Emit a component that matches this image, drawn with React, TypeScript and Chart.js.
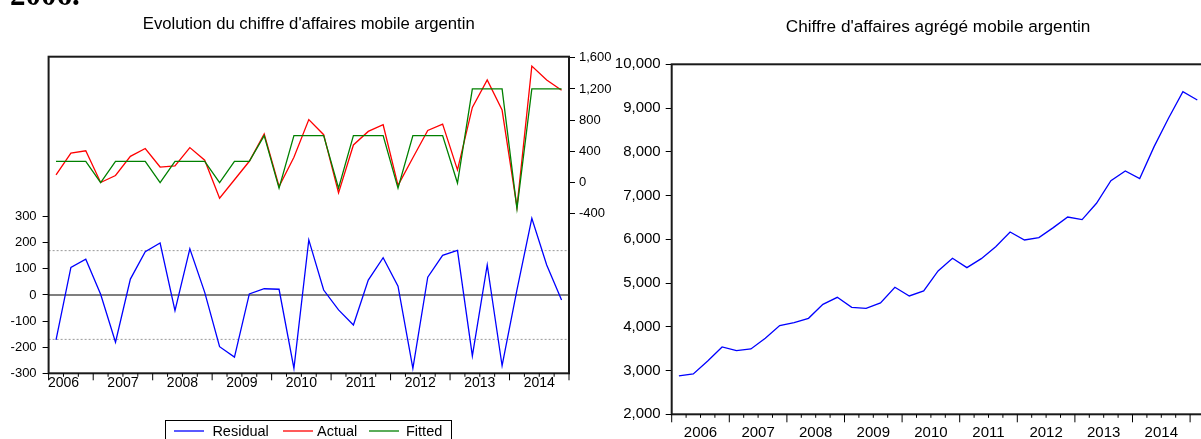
import React, { useEffect, useRef } from 'react';
import { Chart, registerables } from 'chart.js';

Chart.register(...registerables);

const SANS = "'Liberation Sans', Arial, Helvetica, sans-serif";
const SERIF = "'Liberation Serif', 'Times New Roman', serif";

const headingText = '2006.';
const leftTitle = "Evolution du chiffre d'affaires mobile argentin";
const rightTitle = "Chiffre d'affaires agrégé mobile argentin";

const yearLabels = ['2006', '2007', '2008', '2009', '2010', '2011', '2012', '2013', '2014'];

// Left panel: sample 2006Q2 - 2014Q4 (35 quarters)
const leftFirstQuarter = 2;
const residual = [
  -172, 106, 137, 3, -181, 61, 166, 199, -60, 177, 10, -198, -238, 4, 24, 22, -281, 211,
  19, -57, -115, 57, 143, 34, -281, 68, 152, 171, -233, 115, -271, 20, 294, 115, -19,
];
const actual = [
  96, 375, 405, -3, 87, 333, 434, 196, 210, 446, 284, -205, 32, 270, 620, -55, 322, 806,
  612, -137, 480, 654, 740, -40, 315, 666, 748, 160, 963, 1315, 929, -320, 1494, 1315, 1183,
];
const fitted = [
  268, 268, 268, -5, 268, 268, 268, -5, 268, 268, 268, -5, 268, 268, 600, -75, 600, 600,
  600, -75, 600, 600, 600, -75, 600, 600, 600, -10, 1200, 1200, 1200, -340, 1200, 1200, 1200,
];
const residualTicks = [-300, -200, -100, 0, 100, 200, 300];
const levelTicks = [-400, 0, 400, 800, 1200, 1600];
const residualBand = [170, -170];
const legendItems = [
  { label: 'Residual', color: '#0000FF' },
  { label: 'Actual', color: '#FF0000' },
  { label: 'Fitted', color: '#008000' },
];

// Right panel: sample 2006Q1 - 2015Q1 (37 quarters)
const rightFirstQuarter = 1;
const aggregate = [
  2876, 2922, 3219, 3539, 3455, 3493, 3737, 4027, 4095, 4194, 4514, 4674, 4446, 4423, 4545,
  4903, 4705, 4819, 5276, 5566, 5352, 5558, 5832, 6168, 5985, 6038, 6267, 6510, 6450, 6823,
  7341, 7562, 7387, 8118, 8766, 9375, 9185,
];
const aggregateTicks = [2000, 3000, 4000, 5000, 6000, 7000, 8000, 9000, 10000];

const LINE_W = 1.3;
const fmt = new Intl.NumberFormat('en-US');
const toPoints = (arr: number[]) => arr.map((v, i) => ({ x: i + 0.5, y: v }));

function drawQuarterTicks(chart: any, n: number, off: number, major: number, minor: number) {
  const { ctx, chartArea: a } = chart;
  const x = chart.scales.x;
  ctx.save();
  ctx.strokeStyle = '#000';
  ctx.lineWidth = 1;
  for (let i = 0; i <= n; i++) {
    const px = x.getPixelForValue(i);
    const isMajor = i === 0 || i === n || (i + off) % 4 === 0;
    ctx.beginPath();
    ctx.moveTo(px, a.bottom);
    ctx.lineTo(px, a.bottom + (isMajor ? major : minor));
    ctx.stroke();
  }
  ctx.restore();
}

function drawFrame(chart: any) {
  const { ctx, chartArea: a } = chart;
  ctx.save();
  ctx.strokeStyle = '#1a1a1a';
  ctx.lineWidth = 2;
  ctx.strokeRect(a.left, a.top, a.right - a.left, a.bottom - a.top);
  ctx.restore();
}

function LeftChart() {
  const ref = useRef<HTMLCanvasElement>(null);
  useEffect(() => {
    const n = residual.length;
    const off = leftFirstQuarter - 1;
    const yearPos = yearLabels.map((_, k) => k * 4 - off + 2);
    const decor = {
      id: 'leftDecor',
      afterDraw(chart: any) {
        const { ctx, chartArea: a } = chart;
        drawFrame(chart);
        drawQuarterTicks(chart, n, off, 7, 3.5);
        ctx.save();
        ctx.fillStyle = '#000';
        ctx.font = `bold 31px ${SERIF}`;
        ctx.textAlign = 'left';
        ctx.textBaseline = 'alphabetic';
        ctx.fillText(headingText, 10, 4.5);
        ctx.font = `16.7px ${SANS}`;
        ctx.textAlign = 'center';
        ctx.textBaseline = 'middle';
        ctx.fillText(leftTitle, (a.left + a.right) / 2, 24);
        // legend box
        ctx.lineWidth = 1;
        ctx.strokeStyle = '#000';
        ctx.strokeRect(165.5, 420.5, 286, 30);
        const lineStarts = [174, 283, 369];
        const textStarts = [212.4, 317, 406];
        ctx.font = `14.5px ${SANS}`;
        ctx.textAlign = 'left';
        ctx.textBaseline = 'alphabetic';
        legendItems.forEach((it, k) => {
          ctx.strokeStyle = it.color;
          ctx.lineWidth = LINE_W;
          ctx.beginPath();
          ctx.moveTo(lineStarts[k], 431);
          ctx.lineTo(lineStarts[k] + 30, 431);
          ctx.stroke();
          ctx.fillStyle = '#000';
          ctx.fillText(it.label, textStarts[k], 435.5);
        });
        ctx.restore();
      },
    };
    const chart = new Chart(ref.current as HTMLCanvasElement, {
      type: 'line',
      data: {
        datasets: [
          { data: toPoints(fitted), yAxisID: 'y2', borderColor: '#008000', borderWidth: LINE_W, pointRadius: 0, order: 0 },
          { data: toPoints(actual), yAxisID: 'y2', borderColor: '#FF0000', borderWidth: LINE_W, pointRadius: 0, order: 1 },
          { data: toPoints(residual), yAxisID: 'y', borderColor: '#0000FF', borderWidth: LINE_W, pointRadius: 0, order: 1 },
          { data: [{ x: 0, y: 0 }, { x: n, y: 0 }], yAxisID: 'y', borderColor: '#000', borderWidth: 1.2, pointRadius: 0, order: 5 },
          ...residualBand.map((b) => ({
            data: [{ x: 0, y: b }, { x: n, y: b }], yAxisID: 'y', borderColor: '#999', borderWidth: 1,
            borderDash: [2, 2], pointRadius: 0, order: 6,
          })),
        ] as any,
      },
      options: {
        responsive: false,
        animation: false,
        events: [],
        layout: { padding: { left: 0, top: 56.7, right: 21, bottom: 35.7 } },
        plugins: { legend: { display: false }, tooltip: { enabled: false }, title: { display: false } },
        elements: { line: { tension: 0 } },
        scales: {
          x: {
            type: 'linear', min: 0, max: n, bounds: 'data',
            grid: { display: false, drawTicks: false }, border: { display: false },
            ticks: {
              autoSkip: false, maxRotation: 0, color: '#000', padding: 1,
              font: { family: SANS, size: 14 },
              callback: (_v: any, i: number) => yearLabels[i],
            },
            afterBuildTicks: (s: any) => { s.ticks = yearPos.map((v) => ({ value: v })); },
            afterFit: (s: any) => { s.height = 30; },
          },
          y: {
            type: 'linear', position: 'left', min: -300, max: 913, bounds: 'data',
            grid: { drawOnChartArea: false, drawTicks: true, tickLength: 6, color: '#000' },
            border: { display: false },
            ticks: { color: '#000', padding: 6, font: { family: SANS, size: 13 }, callback: (v: any) => fmt.format(v) },
            afterBuildTicks: (s: any) => { s.ticks = residualTicks.map((v) => ({ value: v })); },
            afterFit: (s: any) => { s.width = 48.6; },
          },
          y2: {
            type: 'linear', position: 'right', min: -2457, max: 1615, bounds: 'data',
            grid: { drawOnChartArea: false, drawTicks: true, tickLength: 6, color: '#000' },
            border: { display: false },
            ticks: { color: '#000', padding: 4, font: { family: SANS, size: 13 }, callback: (v: any) => fmt.format(v) },
            afterBuildTicks: (s: any) => { s.ticks = levelTicks.map((v) => ({ value: v })); },
            afterFit: (s: any) => { s.width = 50; },
          },
        } as any,
      },
      plugins: [decor],
    });
    return () => chart.destroy();
  }, []);
  return <canvas ref={ref} width={640} height={439} style={{ position: 'absolute', left: 0, top: 0 }} />;
}

function RightChart() {
  const ref = useRef<HTMLCanvasElement>(null);
  useEffect(() => {
    const n = aggregate.length;
    const off = rightFirstQuarter - 1;
    const yearPos = yearLabels.map((_, k) => k * 4 - off + 2);
    const decor = {
      id: 'rightDecor',
      afterDraw(chart: any) {
        const { ctx, chartArea: a } = chart;
        drawFrame(chart);
        drawQuarterTicks(chart, n, off, 8, 3.5);
        ctx.save();
        ctx.fillStyle = '#000';
        ctx.font = `17.2px ${SANS}`;
        ctx.textAlign = 'center';
        ctx.textBaseline = 'middle';
        ctx.fillText(rightTitle, (a.left + a.right) / 2, 27.5);
        ctx.restore();
      },
    };
    const chart = new Chart(ref.current as HTMLCanvasElement, {
      type: 'line',
      data: {
        datasets: [
          { data: toPoints(aggregate), borderColor: '#0000FF', borderWidth: LINE_W, pointRadius: 0 },
        ] as any,
      },
      options: {
        responsive: false,
        animation: false,
        events: [],
        layout: { padding: { left: 0, top: 64.3, right: 15.5, bottom: 0 } },
        plugins: { legend: { display: false }, tooltip: { enabled: false }, title: { display: false } },
        elements: { line: { tension: 0 } },
        scales: {
          x: {
            type: 'linear', min: 0, max: n, bounds: 'data',
            grid: { display: false, drawTicks: false }, border: { display: false },
            ticks: {
              autoSkip: false, maxRotation: 0, color: '#000', padding: 9.8,
              font: { family: SANS, size: 15 },
              callback: (_v: any, i: number) => yearLabels[i],
            },
            afterBuildTicks: (s: any) => { s.ticks = yearPos.map((v) => ({ value: v })); },
            afterFit: (s: any) => { s.height = 24.7; },
          },
          y: {
            type: 'linear', position: 'left', min: 2000, max: 10000, bounds: 'data',
            grid: { drawOnChartArea: false, drawTicks: true, tickLength: 6, color: '#000' },
            border: { display: false },
            ticks: { color: '#000', padding: 5, font: { family: SANS, size: 15 }, callback: (v: any) => fmt.format(v) },
            afterBuildTicks: (s: any) => { s.ticks = aggregateTicks.map((v) => ({ value: v })); },
            afterFit: (s: any) => { s.width = 71.7; },
          },
        } as any,
      },
      plugins: [decor],
    });
    return () => chart.destroy();
  }, []);
  return <canvas ref={ref} width={620} height={439} style={{ position: 'absolute', left: 600, top: 0 }} />;
}

export default function App() {
  return (
    <div
      style={{
        position: 'absolute', left: 0, top: 0, width: 1201, height: 439,
        overflow: 'hidden', background: '#fff',
      }}
    >
      <LeftChart />
      <RightChart />
    </div>
  );
}
